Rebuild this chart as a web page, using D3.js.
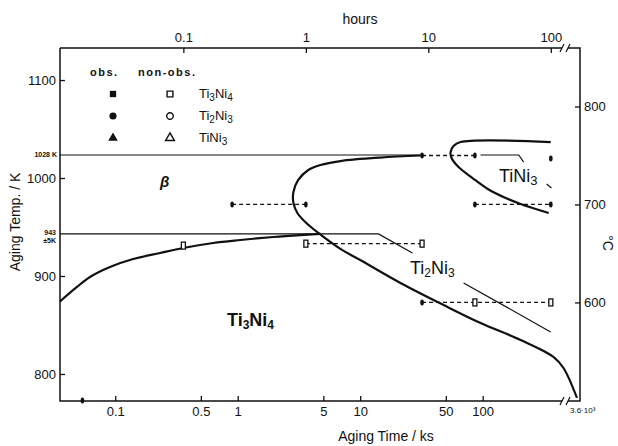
<!DOCTYPE html>
<html>
<head>
<meta charset="utf-8">
<script src="https://cdn.jsdelivr.net/npm/d3@7"></script>
<style>
  body { margin: 0; background: #fff; }
  text { font-family: "Liberation Sans", Arial, sans-serif; fill: #111; }
</style>
</head>
<body>
<div id="chart"></div>
<script>
'use strict';

// axis ticks
const ksTicks = [0.1, 0.5, 1, 5, 10, 50, 100];
const ksLabels = ['0.1', '0.5', '1', '5', '10', '50', '100'];
const hourTicks = [0.1, 1, 10, 100];
const hourLabels = ['0.1', '1', '10', '100'];
const kelvinTicks = [800, 900, 1000, 1100];
const celsiusTicks = [600, 700, 800];

// curves: [time / ks, temperature / K]
const ti2ni3Curve = [[31.1, 1023], [14.6, 1020.9], [6.89, 1017.3], [4.73, 1013.3], [3.77, 1008.2],
  [3.12, 998], [2.85, 985.7], [2.85, 974.5], [3.07, 964.3], [3.56, 955.1], [4.55, 943.9],
  [6.89, 927.6], [10.0, 916.3], [21.3, 892.9], [47.9, 870.4], [96.1, 852], [204, 834.7],
  [380, 817.3], [457, 806.1], [2393, 775.5]];
const ti3ni4Curve = [[0.0354, 874], [0.0487, 888.8], [0.0622, 899.0], [0.0906, 909.2],
  [0.140, 917.3], [0.232, 923.5], [0.358, 928.6], [0.631, 933.7], [1.05, 936.7],
  [1.95, 939.8], [3.24, 941.8], [4.73, 943]];
const tini3Curve = [[346, 964.3], [204, 973.5], [154, 979.6], [110, 988.8], [82.6, 1000],
  [63.5, 1011.2], [55.7, 1020.4], [54.7, 1026.5], [57.8, 1032.7], [65.9, 1036.7], [359, 1036.7]];

// thin boundary lines
const line1028 = [[0.0354, 1023.5], [32, 1023.5]];
const line943 = [[0.0354, 943], [14.1, 943], [26.7, 923.5]];
const ti2ni3Bound = [[69.8, 892.9], [359, 842.9]];
const tini3Bound = [[96.1, 1023.5], [197, 1023.5], [216, 1016.3]];
const tini3Bound2 = [[333, 993.9], [364, 989.8]];

// aging runs (dashed)
const runTemp = [1023, 973, 973, 933, 873];
const runFrom = [32, 0.9, 86.4, 3.6, 32];
const runTo = [86.4, 3.6, 360, 32, 360];

// experimental points
const markTime = [32, 86.4, 360, 0.9, 3.6, 86.4, 360, 3.6, 32, 32, 86.4, 360, 0.36, 0.054];
const markTemp = [1023, 1023, 1020, 973, 973, 973, 973, 933, 933, 873, 873, 873, 931, 773];
const markOpen = [0, 0, 0, 0, 0, 0, 0, 1, 1, 0, 1, 1, 1, 0];

// legend
const legendNames = [[['Ti', 0], ['3', 1], ['Ni', 0], ['4', 1]],
  [['Ti', 0], ['2', 1], ['Ni', 0], ['3', 1]],
  [['TiNi', 0], ['3', 1]]];
const legendSymbols = [d3.symbolSquare, d3.symbolCircle, d3.symbolTriangle];

const width = 618, height = 446;
const svg = d3.select('#chart').append('svg')
  .attr('width', width).attr('height', height);

const x = d3.scaleLog().domain([0.0354, 470, 3600]).range([60, 565, 580]);
const y = d3.scaleLinear().domain([772.4, 1132.7]).range([401, 48]);
const yC = d3.scaleLinear().domain([772.4 - 273, 1132.7 - 273]).range([401, 48]);

const x0 = 60, x1 = 580, y0 = 48, y1 = 401;
const xb = x(470);

// frame with axis break
svg.append('path')
  .attr('d', `M${x0},${y0}V${y1}H${xb - 3}M${xb + 3},${y1}H${x1}V${y0}H${xb + 3}M${xb - 3},${y0}H${x0}`)
  .attr('fill', 'none').attr('stroke', '#111').attr('stroke-width', 1.5);
[y0, y1].forEach(yy => {
  svg.append('path')
    .attr('d', `M${xb - 5},${yy + 4}L${xb - 1},${yy - 4}M${xb + 1},${yy + 4}L${xb + 5},${yy - 4}`)
    .attr('stroke', '#111').attr('stroke-width', 1.2).attr('fill', 'none');
});

function styleAxis(g, size) {
  g.select('.domain').remove();
  g.selectAll('.tick line').attr('stroke', '#111').attr('stroke-width', 1.3);
  g.selectAll('text').attr('font-size', size);
}

svg.append('g').attr('transform', `translate(0,${y1})`)
  .call(d3.axisBottom(x).tickValues(ksTicks).tickFormat((d, i) => ksLabels[i])
    .tickSizeInner(-5).tickSizeOuter(0).tickPadding(6))
  .call(g => styleAxis(g, 13));

svg.append('g').attr('transform', `translate(0,${y0})`)
  .call(d3.axisTop(x).tickValues(hourTicks.map(h => h * 3.6)).tickFormat((d, i) => hourLabels[i])
    .tickSizeInner(-5).tickSizeOuter(0).tickPadding(6))
  .call(g => styleAxis(g, 13));

svg.append('g').attr('transform', `translate(${x0},0)`)
  .call(d3.axisLeft(y).tickValues(kelvinTicks).tickFormat(d3.format('d'))
    .tickSizeInner(-5).tickSizeOuter(0).tickPadding(4))
  .call(g => styleAxis(g, 13));

svg.append('g').attr('transform', `translate(${x1},0)`)
  .call(d3.axisRight(yC).tickValues(celsiusTicks).tickFormat(d3.format('d'))
    .tickSizeInner(-5).tickSizeOuter(0).tickPadding(4))
  .call(g => styleAxis(g, 13));

// axis titles
svg.append('text').attr('x', 386).attr('y', 441).attr('text-anchor', 'middle')
  .attr('font-size', 14).text('Aging Time  / ks');
svg.append('text').attr('x', 360).attr('y', 24).attr('text-anchor', 'middle')
  .attr('font-size', 14).text('hours');
svg.append('text').attr('transform', 'translate(20,222) rotate(-90)').attr('text-anchor', 'middle')
  .attr('font-size', 14).text('Aging Temp. / K');
svg.append('text').attr('transform', 'translate(603,243) rotate(90)').attr('text-anchor', 'middle')
  .attr('font-size', 14).text('°C');
svg.append('text').attr('x', 570).attr('y', 413).attr('font-size', 8).text('3.6·10³');

// small labels on left axis
svg.append('text').attr('x', 57).attr('y', y(1023.5) + 2.5).attr('text-anchor', 'end')
  .attr('font-size', 7).attr('font-weight', 'bold').text('1028 K');
svg.append('text').attr('x', 56).attr('y', y(943) + 1).attr('text-anchor', 'end')
  .attr('font-size', 7).attr('font-weight', 'bold').text('943');
svg.append('text').attr('x', 56).attr('y', y(943) + 9).attr('text-anchor', 'end')
  .attr('font-size', 7).attr('font-weight', 'bold').text('±5K');

const line = d3.line().x(d => x(d[0])).y(d => y(d[1]));
const smooth = d3.line().x(d => x(d[0])).y(d => y(d[1])).curve(d3.curveCatmullRom.alpha(0.5));

[ti2ni3Curve, ti3ni4Curve, tini3Curve].forEach(c => {
  svg.append('path').attr('d', smooth(c)).attr('fill', 'none')
    .attr('stroke', '#111').attr('stroke-width', 2.2);
});
[line1028, line943, ti2ni3Bound, tini3Bound, tini3Bound2].forEach(c => {
  svg.append('path').attr('d', line(c)).attr('fill', 'none')
    .attr('stroke', '#111').attr('stroke-width', 1.2);
});

// dashed aging runs
runTemp.forEach((t, i) => {
  svg.append('path').attr('d', line([[runFrom[i], t], [runTo[i], t]]))
    .attr('fill', 'none').attr('stroke', '#111').attr('stroke-width', 1.3)
    .attr('stroke-dasharray', '4,3');
});

// markers
markTime.forEach((t, i) => {
  const cx = x(t), cy = y(markTemp[i]);
  if (markOpen[i]) {
    svg.append('rect').attr('x', cx - 2).attr('y', cy - 3.5).attr('width', 4).attr('height', 7)
      .attr('fill', '#fff').attr('stroke', '#111').attr('stroke-width', 1.3);
  } else {
    svg.append('ellipse').attr('cx', cx).attr('cy', cy).attr('rx', 1.8).attr('ry', 3)
      .attr('fill', '#111');
  }
});

// legend
svg.append('text').attr('x', 90).attr('y', 76).attr('font-size', 11).attr('font-weight', 'bold')
  .attr('letter-spacing', 1.5).text('obs.');
svg.append('text').attr('x', 138).attr('y', 76).attr('font-size', 11).attr('font-weight', 'bold')
  .attr('letter-spacing', 1.5).text('non-obs.');

function chem(sel, parts, sub) {
  let shift = 0;
  parts.forEach(p => {
    const dy = p[1] ? 3 - shift : -shift;
    sel.append('tspan').attr('font-size', p[1] ? sub : null).attr('dy', dy).text(p[0]);
    shift = p[1] ? 3 : 0;
  });
}

legendNames.forEach((n, i) => {
  const ly = 94 + i * 22;
  svg.append('path').attr('transform', `translate(113,${ly})`)
    .attr('d', d3.symbol().type(legendSymbols[i]).size(40)()).attr('fill', '#111');
  svg.append('path').attr('transform', `translate(170,${ly})`)
    .attr('d', d3.symbol().type(legendSymbols[i]).size(34)())
    .attr('fill', '#fff').attr('stroke', '#111').attr('stroke-width', 1.4);
  chem(svg.append('text').attr('x', 199).attr('y', ly + 4).attr('font-size', 13), n, 10);
});

// region labels
svg.append('text').attr('x', 160).attr('y', 187).attr('font-size', 15).attr('font-style', 'italic')
  .attr('font-weight', 'bold').text('β');
chem(svg.append('text').attr('x', 227).attr('y', 326).attr('font-size', 18).attr('font-weight', 'bold'),
  legendNames[0], 12);
chem(svg.append('text').attr('x', 410).attr('y', 274).attr('font-size', 18),
  legendNames[1], 12);
chem(svg.append('text').attr('x', 499).attr('y', 182).attr('font-size', 18),
  legendNames[2], 13);
</script>
</body>
</html>
